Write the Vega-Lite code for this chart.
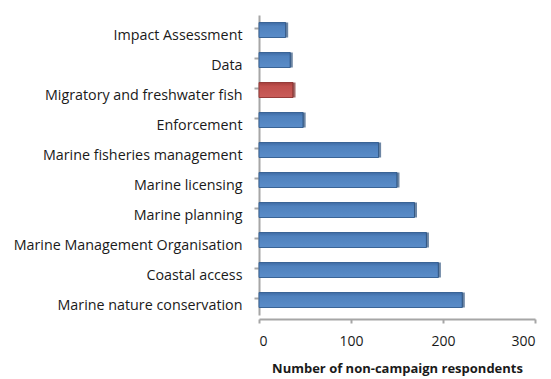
{
  "$schema": "https://vega.github.io/schema/vega-lite/v6.json",
  "width": 276,
  "height": 300,
  "autosize": "none",
  "padding": {"left": 259, "top": 15, "right": 16, "bottom": 64},
  "background": "white",
  "config": {
    "view": {"stroke": null},
    "font": "Open Sans",
    "axis": {"labelFont": "Open Sans", "titleFont": "Open Sans"}
  },
  "data": {
    "values": [
      {"topic": "Impact Assessment", "respondents": 29, "group": "other"},
      {"topic": "Data", "respondents": 34, "group": "other"},
      {"topic": "Migratory and freshwater fish", "respondents": 37, "group": "highlight"},
      {"topic": "Enforcement", "respondents": 48, "group": "other"},
      {"topic": "Marine fisheries management", "respondents": 130, "group": "other"},
      {"topic": "Marine licensing", "respondents": 150, "group": "other"},
      {"topic": "Marine planning", "respondents": 169, "group": "other"},
      {"topic": "Marine Management Organisation", "respondents": 182, "group": "other"},
      {"topic": "Coastal access", "respondents": 195, "group": "other"},
      {"topic": "Marine nature conservation", "respondents": 221, "group": "other"}
    ]
  },
  "encoding": {
    "y": {
      "field": "topic",
      "type": "nominal",
      "sort": null,
      "scale": {
        "domain": [
          "Impact Assessment",
          "Data",
          "Migratory and freshwater fish",
          "Enforcement",
          "Marine fisheries management",
          "Marine licensing",
          "Marine planning",
          "Marine Management Organisation",
          "Coastal access",
          "Marine nature conservation"
        ],
        "paddingInner": 0.5,
        "paddingOuter": 0.25
      },
      "axis": {
        "title": null,
        "domainColor": "#a6a6a6",
        "domainWidth": 2,
        "tickColor": "#a6a6a6",
        "tickWidth": 2,
        "tickSize": 5,
        "bandPosition": 0,
        "tickOffset": 5,
        "labelFontSize": 14.3,
        "labelColor": "#1a1a1a",
        "labelPadding": 12,
        "labelLimit": 260
      }
    },
    "x": {
      "field": "respondents",
      "type": "quantitative",
      "scale": {"domain": [0, 300], "nice": false},
      "axis": {
        "values": [0, 100, 200, 300],
        "grid": false,
        "offset": 4,
        "domainColor": "#a6a6a6",
        "domainWidth": 2,
        "tickColor": "#a6a6a6",
        "tickWidth": 2,
        "tickSize": 4,
        "labelFontSize": 14,
        "labelColor": "#1a1a1a",
        "labelPadding": 11,
        "title": "Number of non-campaign respondents",
        "titleFontSize": 13,
        "titleFontWeight": "bold",
        "titleColor": "#1a1a1a",
        "titlePadding": 14
      }
    }
  },
  "layer": [
    {
      "transform": [{"filter": "datum.group === 'other'"}],
      "mark": {
        "type": "bar",
        "stroke": "#3a6496",
        "strokeWidth": 1,
        "color": {
          "gradient": "linear",
          "x1": 0, "y1": 0, "x2": 0, "y2": 1,
          "stops": [
            {"offset": 0, "color": "#3e6aa3"},
            {"offset": 0.25, "color": "#4f81bd"},
            {"offset": 1, "color": "#5a8cc8"}
          ]
        }
      }
    },
    {
      "transform": [{"filter": "datum.group === 'highlight'"}],
      "mark": {
        "type": "bar",
        "stroke": "#963c3a",
        "strokeWidth": 1,
        "color": {
          "gradient": "linear",
          "x1": 0, "y1": 0, "x2": 0, "y2": 1,
          "stops": [
            {"offset": 0, "color": "#a33e3b"},
            {"offset": 0.25, "color": "#c0504d"},
            {"offset": 1, "color": "#c95d5a"}
          ]
        }
      }
    },
    {
      "mark": {"type": "tick", "orient": "vertical", "thickness": 3, "size": 15, "xOffset": 1},
      "encoding": {
        "color": {
          "field": "group",
          "type": "nominal",
          "scale": {"domain": ["other", "highlight"], "range": ["#2f527d", "#7d2f2d"]},
          "legend": null
        }
      }
    }
  ]
}
